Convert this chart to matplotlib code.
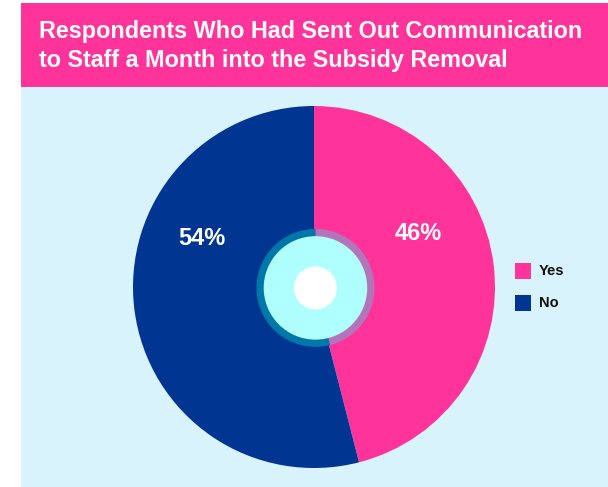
import matplotlib.pyplot as plt
from matplotlib.patches import Rectangle, Wedge, Circle

labels = ["Yes", "No"]
shares = [46, 54]
colors = ["#FF3399", "#003591"]
ring_colors = ["#B274BA", "#0077A9"]

title = "Respondents Who Had Sent Out Communication\nto Staff a Month into the Subsidy Removal"

W, H = 608, 487
fig = plt.figure(figsize=(W / 100, H / 100), dpi=100)
fig.patch.set_facecolor("white")

# background panel and title banner, in pixel coordinates from the top-left
bg = fig.add_axes([0, 0, 1, 1], zorder=-1)
bg.set_xlim(0, W)
bg.set_ylim(H, 0)
bg.axis("off")
bg.add_patch(Rectangle((21, 3), W - 21, H - 3, facecolor="#D9F3FC", edgecolor="none"))
bg.add_patch(Rectangle((21, 3), W - 21, 84, facecolor="#FF3399", edgecolor="none"))
bg.text(39, 46, title, color="white", fontsize=16.8, fontweight="bold",
        family="Liberation Sans", va="center", ha="left", linespacing=1.38)

# legend
for i, (lab, c) in enumerate(zip(labels, colors)):
    y = 271 + i * 32
    bg.add_patch(Rectangle((515, y - 8), 16, 16, facecolor=c, edgecolor="none"))
    bg.text(539, y, lab, fontsize=10.5, fontweight="bold",
            family="Liberation Sans", va="center", ha="left", color="#111111")

# pie
cx, cy, r = 314, 287, 181
ax = fig.add_axes([(cx - r) / W, 1 - (cy + r) / H, 2 * r / W, 2 * r / H])
ax.set_facecolor("none")
wedges, _ = ax.pie(shares, colors=colors, startangle=90, counterclock=False, radius=1,
                   wedgeprops=dict(linewidth=0))

# center ring, tinted over each slice
for w, rc in zip(wedges, ring_colors):
    ax.add_patch(Wedge((0.008, -0.005), 0.326, w.theta1, w.theta2, width=0.041,
                       facecolor=rc, edgecolor="none", zorder=3))
ax.add_patch(Circle((0.008, -0.005), 0.286, facecolor="#AFFFFF", edgecolor="none", zorder=4))
ax.add_patch(Circle((0.008, -0.005), 0.119, facecolor="white", edgecolor="none", zorder=5))

# percentage labels
label_pos = [(0.577, 0.298), (-0.622, 0.268)]
for (x, y), v in zip(label_pos, shares):
    ax.text(x, y, f"{v}%", color="white", fontsize=17, fontweight="bold",
            family="Liberation Sans", ha="center", va="center", zorder=6)

ax.set_xlim(-1, 1)
ax.set_ylim(-1, 1)
ax.set_aspect("equal")
ax.axis("off")

fig.savefig("out.png", dpi=100)
